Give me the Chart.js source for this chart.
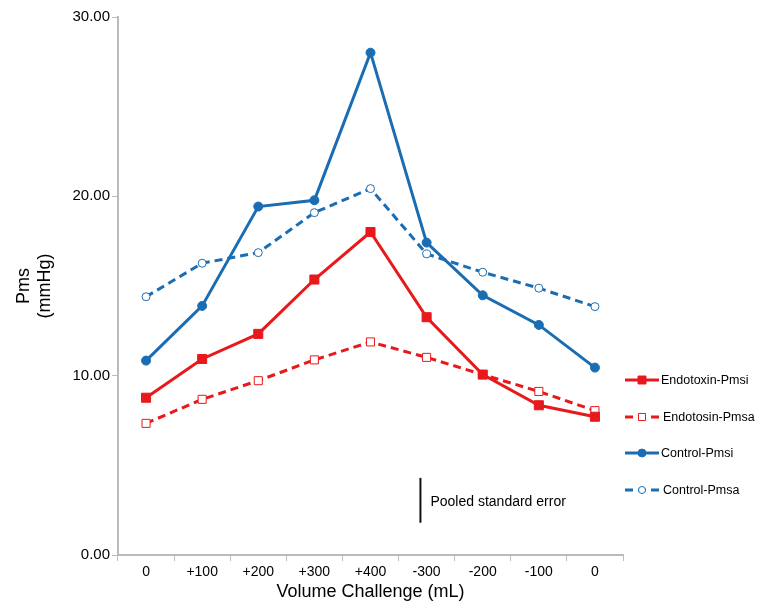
<!DOCTYPE html>
<html>
<head>
<meta charset="utf-8">
<script src="https://cdn.jsdelivr.net/npm/chart.js@4/dist/chart.umd.min.js"></script>
<style>
  body { margin: 0; background: #fff; }
  canvas { display: block; }
</style>
</head>
<body>
<canvas id="grafico" width="766" height="613"></canvas>
<script>
// Dados
const categorias = ['0', '+100', '+200', '+300', '+400', '-300', '-200', '-100', '0'];
const endotoxinPmsi = [8.77, 10.93, 12.33, 15.36, 18.01, 13.26, 10.06, 8.35, 7.71];
const endotosinPmsa = [7.34, 8.68, 9.72, 10.88, 11.88, 11.02, 10.06, 9.12, 8.05];
const controlPmsi = [10.84, 13.89, 19.43, 19.78, 28.01, 17.42, 14.48, 12.83, 10.45];
const controlPmsa = [14.40, 16.27, 16.86, 19.09, 20.43, 16.79, 15.77, 14.88, 13.85];
const rotulosSerie = ['Endotoxin-Pmsi', 'Endotosin-Pmsa', 'Control-Pmsi', 'Control-Pmsa'];
const yTicks = [0, 10, 20, 30];
// Barra do erro padrão agrupado (posição em índice de categoria, valores em mmHg)
const erroPadraoX = 4.89;
const erroPadrao = [1.8, 4.3];

const VERMELHO = '#e8191c';
const AZUL = '#1b6db3';
const FONTE = "'Liberation Sans', Arial, Helvetica, sans-serif";

// Legenda desenhada à mão (linha + marcador + texto)
const legendaPlugin = {
  id: 'legendaManual',
  afterDraw(chart) {
    const ctx = chart.ctx;
    const ys = [380, 417, 453, 490];
    chart.data.datasets.forEach((ds, i) => {
      const y = ys[i];
      const r = ds.pointRadius * 0.88;
      ctx.save();
      ctx.strokeStyle = ds.borderColor;
      ctx.lineWidth = ds.borderWidth;
      ctx.setLineDash(ds.borderDash || []);
      ctx.beginPath();
      ctx.moveTo(625, y);
      ctx.lineTo(659, y);
      ctx.stroke();
      ctx.setLineDash([]);
      ctx.fillStyle = ds.pointBackgroundColor;
      ctx.strokeStyle = ds.pointBorderColor;
      ctx.lineWidth = ds.pointBorderWidth;
      ctx.beginPath();
      if (ds.pointStyle === 'rect') {
        const s = r * Math.SQRT1_2;
        ctx.rect(642 - s, y - s, 2 * s, 2 * s);
      } else {
        ctx.arc(642, y, r, 0, Math.PI * 2);
      }
      ctx.fill();
      ctx.stroke();
      ctx.fillStyle = '#000';
      ctx.font = '12.5px ' + FONTE;
      ctx.textBaseline = 'middle';
      ctx.fillText(ds.label, ds.borderDash ? 663 : 661, y + 1);
      ctx.restore();
    });
  }
};

// Barra vertical "Pooled standard error"
const erroPlugin = {
  id: 'erroPadrao',
  afterDraw(chart) {
    const ctx = chart.ctx;
    const x = chart.scales.x.getPixelForValue(erroPadraoX);
    const y1 = chart.scales.y.getPixelForValue(erroPadrao[0]);
    const y2 = chart.scales.y.getPixelForValue(erroPadrao[1]);
    ctx.save();
    ctx.strokeStyle = '#111';
    ctx.lineWidth = 2;
    ctx.beginPath();
    ctx.moveTo(x, y1);
    ctx.lineTo(x, y2);
    ctx.stroke();
    ctx.fillStyle = '#000';
    ctx.font = '14px ' + FONTE;
    ctx.textBaseline = 'middle';
    ctx.fillText('Pooled standard error', x + 10, (y1 + y2) / 2 + 2);
    ctx.restore();
  }
};

function serie(label, dados, cor, tracejado, estilo, raio, cheio) {
  return {
    label: label,
    data: dados,
    borderColor: cor,
    borderWidth: 3,
    borderDash: tracejado ? [8, 5] : undefined,
    pointStyle: estilo,
    pointRadius: raio,
    pointHoverRadius: raio,
    pointBackgroundColor: cheio ? cor : '#fff',
    pointBorderColor: cor,
    pointBorderWidth: 1,
    tension: 0,
    fill: false
  };
}

const ctx = document.getElementById('grafico').getContext('2d');
new Chart(ctx, {
  type: 'line',
  data: {
    labels: categorias,
    datasets: [
      serie(rotulosSerie[0], endotoxinPmsi, VERMELHO, false, 'rect', 6.4, true),
      serie(rotulosSerie[1], endotosinPmsa, VERMELHO, true, 'rect', 5.7, false),
      serie(rotulosSerie[2], controlPmsi, AZUL, false, 'circle', 4.5, true),
      serie(rotulosSerie[3], controlPmsa, AZUL, true, 'circle', 4, false)
    ]
  },
  options: {
    responsive: false,
    animation: false,
    layout: { padding: { left: 0, right: 143, top: 17, bottom: 0 } },
    plugins: {
      legend: { display: false },
      tooltip: { enabled: false }
    },
    scales: {
      x: {
        offset: true,
        grid: { offset: true, drawOnChartArea: false, drawTicks: true, tickLength: 6, color: '#bbb', lineWidth: 1 },
        border: { color: '#bbb', width: 2 },
        ticks: { color: '#000', font: { family: FONTE, size: 14 }, padding: 3, maxRotation: 0, autoSkip: false },
        title: { display: true, text: 'Volume Challenge (mL)', color: '#000', font: { family: FONTE, size: 18 }, padding: { top: 0, bottom: 10 } },
        afterFit(scale) { scale.height = 58; }
      },
      y: {
        min: 0,
        max: 30,
        afterBuildTicks(scale) { scale.ticks = yTicks.map(v => ({ value: v })); },
        grid: { drawOnChartArea: false, drawTicks: true, tickLength: 6, color: '#bbb' },
        border: { color: '#bbb', width: 2 },
        ticks: { color: '#000', font: { family: FONTE, size: 15 }, padding: 2, callback: v => v.toFixed(2) },
        title: { display: true, text: ['Pms', '(mmHg)'], color: '#000', font: { family: FONTE, size: 18 }, padding: { top: 13, bottom: 0 } },
        afterFit(scale) { scale.width = 118; }
      }
    }
  },
  plugins: [legendaPlugin, erroPlugin]
});
</script>
</body>
</html>
